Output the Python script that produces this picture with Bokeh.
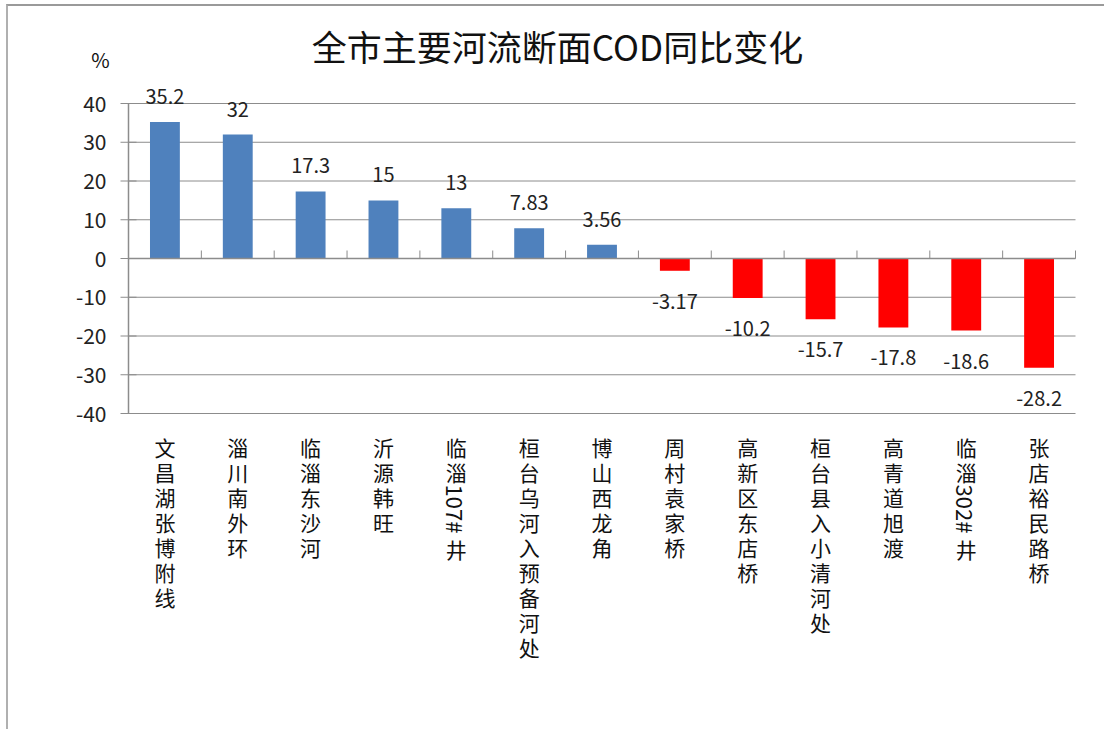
import math
from bokeh.plotting import figure
from bokeh.models import ColumnDataSource, Range1d
from bokeh.core.properties import value
from bokeh.embed import file_html
from bokeh.resources import INLINE

categories = ["文昌湖张博附线", "淄川南外环", "临淄东沙河", "沂源韩旺", "临淄107#井",
              "桓台乌河入预备河处", "博山西龙角", "周村袁家桥", "高新区东店桥",
              "桓台县入小清河处", "高青道旭渡", "临淄302#井", "张店裕民路桥"]
values = [35.2, 32, 17.3, 15, 13, 7.83, 3.56, -3.17, -10.2, -15.7, -17.8, -18.6, -28.2]
labels = ["35.2", "32", "17.3", "15", "13", "7.83", "3.56", "-3.17", "-10.2", "-15.7", "-17.8", "-18.6", "-28.2"]
y_ticks = [-40, -30, -20, -10, 0, 10, 20, 30, 40]
y_tick_labels = ["-40", "-30", "-20", "-10", "0", "10", "20", "30", "40"]
title_text = "全市主要河流断面COD同比变化"
unit_text = "%"

FONT = "Noto Sans CJK SC"
GRID = "#8C8C8C"
TXT = "#111111"

# ---- layout (canvas pixels) ----
W, H = 1098, 725
PL, PR, PT, PB = 120, 1067, 97, 407       # plot area edges in canvas pixels
n = len(categories)
y_min, y_max = y_ticks[0], y_ticks[-1]
sx = (PR - PL) / n
sy = (PB - PT) / (y_max - y_min)
x_start = -PL / sx
x_end = n + (W - PR) / sx
y_end = y_max + PT / sy
y_start = y_min - (H - PB) / sy


def px2x(px):
    return x_start + px / sx


def py2y(py):
    return y_end - py / sy


p = figure(width=W, height=H, output_backend="svg", toolbar_location=None,
           x_range=Range1d(x_start, x_end), y_range=Range1d(y_start, y_end),
           x_axis_location=None, y_axis_location=None, min_border=0)
p.outline_line_color = None
p.background_fill_color = "white"
p.border_fill_color = "white"
p.xgrid.visible = False
p.ygrid.visible = False

xs = [i + 0.5 for i in range(n)]
colors = ["#4F81BD" if v >= 0 else "#FF0000" for v in values]

# gridlines
p.segment(x0=[0] * len(y_ticks), x1=[n] * len(y_ticks), y0=y_ticks, y1=y_ticks,
          line_color=GRID, line_width=1)

# bars
src = ColumnDataSource(dict(x=xs, top=values, color=colors))
p.vbar(x="x", top="top", bottom=0, width=0.41, fill_color="color", line_color=None, source=src)

# category axis line at zero with boundary ticks (pointing up)
p.segment(x0=[0], x1=[n], y0=[0], y1=[0], line_color=GRID, line_width=1.5)
bounds = list(range(1, n + 1))
tick_len = 8 / sy
p.segment(x0=bounds, x1=bounds, y0=[0] * n, y1=[tick_len] * n, line_color=GRID, line_width=1)

# value axis
p.segment(x0=[0], x1=[0], y0=[y_min], y1=[y_max], line_color=GRID, line_width=1.5)
p.scatter(x=[0] * len(y_ticks), y=y_ticks, marker="dash", size=16, line_color=GRID, line_width=1)
p.text(x=[0] * len(y_ticks), y=y_ticks, text=y_tick_labels, text_align="right",
       text_baseline="middle", x_offset=-22, text_font=value(FONT), text_font_size="21px",
       text_color="#222222")

# data labels
pos = ColumnDataSource(dict(x=[x for x, v in zip(xs, values) if v >= 0],
                            y=[v for v in values if v >= 0],
                            t=[l for l, v in zip(labels, values) if v >= 0]))
neg = ColumnDataSource(dict(x=[x for x, v in zip(xs, values) if v < 0],
                            y=[v for v in values if v < 0],
                            t=[l for l, v in zip(labels, values) if v < 0]))
p.text(x="x", y="y", text="t", source=pos, text_align="center", text_baseline="bottom",
       y_offset=-18, text_font=value(FONT), text_font_size="20px", text_color="#222222")
p.text(x="x", y="y", text="t", source=neg, text_align="center", text_baseline="top",
       y_offset=23, text_font=value(FONT), text_font_size="20px", text_color="#222222")

# category labels: CJK characters stacked, ASCII runs rotated
CH_PITCH = 25
ASCII_W = 12.5
cj = dict(x=[], y=[], t=[], off=[])
asc = dict(x=[], y=[], t=[], off=[])
for x, cat in zip(xs, categories):
    tokens = []
    run = ""
    for ch in cat:
        if ord(ch) < 128:
            run += ch
        else:
            if run:
                tokens.append(run)
                run = ""
            tokens.append(ch)
    if run:
        tokens.append(run)
    cursor = 18
    for tok in tokens:
        if ord(tok[0]) < 128:
            asc["x"].append(x); asc["y"].append(y_min); asc["t"].append(tok); asc["off"].append(cursor + 3)
            cursor += len(tok) * ASCII_W + 2
        else:
            cj["x"].append(x); cj["y"].append(y_min); cj["t"].append(tok); cj["off"].append(cursor)
            cursor += CH_PITCH
p.text(x="x", y="y", text="t", y_offset="off", source=ColumnDataSource(cj), text_align="center",
       text_baseline="top", text_font=value(FONT), text_font_size="21px", text_color=TXT)
p.text(x="x", y="y", text="t", y_offset="off", source=ColumnDataSource(asc), angle=-math.pi / 2,
       text_align="left", text_baseline="middle", text_font=value(FONT), text_font_size="22px",
       text_color=TXT)

# title and unit
p.text(x=[px2x(549)], y=[py2y(39)], text=[title_text], text_align="center", text_baseline="middle",
       text_font=value(FONT), text_font_size="35px", text_color=TXT)
p.text(x=[px2x(92)], y=[py2y(53)], text=[unit_text], text_align="center", text_baseline="middle",
       text_font=value(FONT), text_font_size="20px", text_color=TXT)

p.styles = {"border-top": "2px solid #9a9a9a", "border-left": "2px solid #b0b0b0",
            "margin-left": "6px", "margin-top": "4px"}

open("out.html", "w").write(file_html(p, INLINE))
